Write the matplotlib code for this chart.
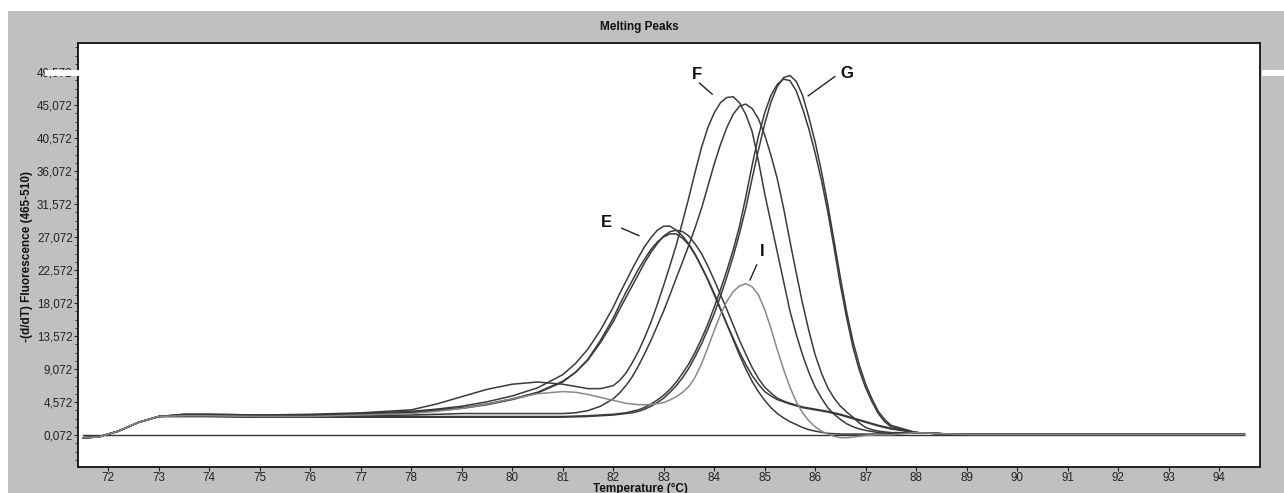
import numpy as np
import matplotlib.pyplot as plt
from matplotlib.patches import Rectangle
from matplotlib.ticker import FixedLocator

# shared temperature grid (deg C), finer around the peaks
temp = [71.5, 71.8, 72.2, 72.6, 73.0, 73.5, 74, 75, 76, 77,
        78, 78.5, 79, 79.5, 80, 80.5, 81, 81.25, 81.5, 81.75,
        82.0, 82.125, 82.25, 82.375, 82.5, 82.625, 82.75, 82.875,
        83.0, 83.125, 83.25, 83.375, 83.5, 83.625, 83.75, 83.875,
        84.0, 84.125, 84.25, 84.375, 84.5, 84.625, 84.75, 84.875,
        85.0, 85.125, 85.25, 85.375, 85.5, 85.625, 85.75, 85.875,
        86.0, 86.125, 86.25, 86.375, 86.5, 86.625, 86.75, 86.875,
        87.0, 87.125, 87.25, 87.375, 87.5,
        88, 88.5, 89, 90, 94.5]

start = [-0.3, -0.2, 0.6, 1.8, 2.6]
tail = [0.4, 0.25, 0.15, 0.15, 0.15]

# -(d/dT) values
curve_E1 = start + [2.9, 2.9, 2.8, 2.8, 3.0, 3.3, 3.6, 4.0, 4.6, 5.4, 6.5, 8.3, 9.8, 11.8, 14.4,
                    17.5, 19.3, 21.0, 22.7, 24.3, 25.8, 27.0, 28.0,
                    28.55, 28.55, 28.0, 27.2, 26.1, 24.7, 23.0, 21.2,
                    19.2, 17.2, 15.2, 13.3, 11.4, 9.7, 8.2, 7.0,
                    6.0, 5.4, 4.9, 4.6, 4.3, 4.05, 3.8, 3.65,
                    3.5, 3.35, 3.2, 3.0, 2.8, 2.55, 2.3, 2.05,
                    1.8, 1.55, 1.3, 1.1, 0.9] + tail
curve_E2 = start + [2.8, 2.8, 2.7, 2.7, 2.9, 3.2, 3.5, 3.8, 4.3, 5.0, 5.9, 7.4, 8.6, 10.3, 12.7,
                    15.5, 17.2, 18.8, 20.4, 22.0, 23.6, 25.0, 26.2,
                    27.2, 27.8, 28.0, 27.8, 27.2, 26.1, 24.8, 23.1,
                    21.2, 19.2, 17.2, 15.1, 13.0, 11.1, 9.3, 7.8,
                    6.6, 5.8, 5.1, 4.7, 4.4, 4.15, 3.9, 3.75,
                    3.6, 3.45, 3.3, 3.1, 2.9, 2.65, 2.4, 2.15,
                    1.9, 1.65, 1.4, 1.2, 1.0] + tail
curve_E3 = start + [2.8, 2.8, 2.7, 2.7, 2.8, 3.1, 3.4, 3.7, 4.2, 4.9, 5.8, 7.3, 8.6, 10.4, 13.0,
                    16.0, 17.8, 19.5, 21.1, 22.7, 24.1, 25.4, 26.4,
                    27.1, 27.5, 27.5, 26.9, 26.0, 24.6, 23.0, 21.3,
                    19.4, 17.3, 15.2, 13.1, 11.0, 9.1, 7.4, 6.0,
                    4.8, 3.8, 3.0, 2.4, 1.9, 1.5, 1.1, 0.8,
                    0.6, 0.45, 0.3, 0.25, 0.2, 0.2, 0.2, 0.2,
                    0.2, 0.2, 0.2, 0.2, 0.2] + tail
curve_F1 = start + [2.9, 2.9, 2.8, 2.9, 3.1, 3.5, 4.3, 5.3, 6.3, 7.0, 7.3, 7.0, 6.7, 6.4, 6.4,
                    6.8, 7.5, 8.5, 9.9, 11.5, 13.4, 15.5, 17.9,
                    20.5, 23.2, 26.0, 29.2, 32.5, 36.0, 39.3, 42.0,
                    44.0, 45.4, 46.1, 46.2, 45.4, 43.8, 41.5, 37.5,
                    33.0, 29.0, 25.0, 21.0, 17.0, 13.8, 11.0, 8.6,
                    6.6, 5.1, 3.8, 2.9, 2.2, 1.6, 1.2, 0.9,
                    0.7, 0.55, 0.4, 0.35, 0.3] + tail
curve_F2 = start + [2.7, 2.7, 2.6, 2.6, 2.7, 2.8, 2.9, 3.0, 3.0, 3.0, 3.0, 3.0, 3.1, 3.4, 4.0,
                    5.0, 5.8, 6.8, 8.0, 9.5, 11.2, 13.0, 15.0,
                    17.0, 19.2, 21.5, 23.7, 26.0, 28.4, 31.0, 34.0,
                    37.0, 39.7, 42.0, 43.8, 44.9, 45.2, 44.6, 43.2,
                    41.0, 38.2, 35.0, 31.0, 26.5, 22.2, 18.0, 14.3,
                    11.0, 8.5, 6.5, 5.1, 4.0, 3.2, 2.5, 1.7,
                    1.1, 0.8, 0.6, 0.5, 0.4] + tail
curve_G1 = start + [2.6, 2.6, 2.5, 2.5, 2.6, 2.6, 2.6, 2.6, 2.6, 2.6, 2.6, 2.6, 2.65, 2.7, 2.8,
                    2.9, 3.0, 3.1, 3.3, 3.5, 3.85, 4.3, 4.85,
                    5.5, 6.3, 7.3, 8.5, 9.8, 11.4, 13.2, 15.2,
                    17.5, 19.9, 22.5, 25.3, 28.5, 32.5, 36.8, 40.8,
                    44.0, 46.4, 47.9, 48.6, 48.4, 47.0, 44.6, 41.8,
                    38.5, 34.8, 30.5, 25.6, 20.5, 16.0, 12.0, 8.9,
                    6.5, 4.6, 3.0, 1.9, 1.2] + tail
curve_G2 = start + [2.6, 2.6, 2.5, 2.5, 2.5, 2.5, 2.5, 2.5, 2.5, 2.5, 2.5, 2.5, 2.55, 2.6, 2.7,
                    2.8, 2.9, 3.0, 3.1, 3.3, 3.6, 4.0, 4.5,
                    5.1, 5.9, 6.8, 7.9, 9.2, 10.8, 12.5, 14.5,
                    16.6, 19.0, 21.6, 24.4, 27.5, 31.0, 35.0, 38.9,
                    42.5, 45.5, 47.6, 48.8, 49.1, 48.3, 46.4, 43.4,
                    40.0, 36.0, 31.5, 26.5, 21.5, 16.8, 12.8, 9.6,
                    7.0, 5.0, 3.3, 2.2, 1.4] + tail
curve_I = start + [2.7, 2.7, 2.6, 2.6, 2.8, 3.0, 3.3, 3.7, 4.3, 5.0, 5.7, 6.0, 5.9, 5.6, 5.2,
                   4.8, 4.6, 4.4, 4.3, 4.2, 4.2, 4.25, 4.35,
                   4.5, 4.85, 5.3, 5.9, 6.7, 8.0, 9.8, 12.0,
                   14.3, 16.5, 18.3, 19.6, 20.4, 20.7, 20.3, 19.2,
                   17.2, 14.6, 11.7, 9.0, 6.6, 4.6, 3.1, 2.0,
                   1.2, 0.6, 0.2, -0.1, -0.3, -0.3, -0.2, -0.1,
                   0.0, 0.05, 0.1, 0.1, 0.1] + tail
baseline = [0.072] * len(temp)

dark_curves = [curve_E1, curve_E2, curve_E3, curve_F1, curve_F2, curve_G1, curve_G2]

y_ticks = [0.072 + 4.5 * k for k in range(12)]
y_labels = [f"{v:.3f}".replace(".", ",") for v in y_ticks]
x_ticks = list(range(72, 95))

peak_labels = ["E", "F", "G", "I"]
label_text_pos = [(81.87, 29.0), (83.65, 49.3), (86.62, 49.4), (84.96, 25.1)]
label_line = [((82.17, 28.27), (82.51, 27.26)),
              ((83.71, 48.05), (83.96, 46.55)),
              ((86.39, 48.95), (85.86, 46.32)),
              ((84.84, 23.26), (84.71, 21.22))]

plt.rcParams['font.family'] = ['Liberation Sans', 'DejaVu Sans']

fig = plt.figure(figsize=(12.84, 4.93), dpi=100)
fig.patch.set_facecolor('white')
fig.add_artist(Rectangle((8 / 1284, 0), 1 - 8 / 1284, 1 - 11 / 493,
                         transform=fig.transFigure, facecolor='#c0c0c0',
                         edgecolor='none', zorder=0))

ax = fig.add_axes([78 / 1284, 1 - 467 / 493, (1260 - 78) / 1284, (467 - 43) / 493])
ax.set_facecolor('white')

ax.plot(temp, baseline, color='#333333', lw=1.0)
for c in dark_curves:
    ax.plot(temp, c, color='#3a3a3a', lw=1.1)
ax.plot(temp, curve_I, color='#888888', lw=1.1)

for lab, tp, (p0, p1) in zip(peak_labels, label_text_pos, label_line):
    ax.text(tp[0], tp[1], lab, fontsize=12, fontweight='bold', ha='center',
            va='center', color='#111111')
    ax.plot([p0[0], p1[0]], [p0[1], p1[1]], color='#222222', lw=1.0)

ax.set_xlim(71.4, 94.81)
ax.set_ylim(-4.29, 53.53)
ax.yaxis.set_major_locator(FixedLocator(y_ticks))
ax.set_yticklabels(y_labels)
ax.yaxis.set_minor_locator(FixedLocator([0.072 + 1.125 * k for k in range(-3, 48)]))
ax.set_xticks(x_ticks)
ax.set_xticklabels([str(v) for v in x_ticks])
ax.tick_params(axis='both', which='major', labelsize=8.4, colors='#222222',
               length=2.8, width=0.8, pad=1.0)
ax.tick_params(axis='y', which='minor', length=2.0, width=0.6, colors='#222222')
for s in ax.spines.values():
    s.set_color('#111111')
    s.set_linewidth(1.3)

fig.text(639 / 1284, 1 - 27 / 493, "Melting Peaks", ha='center', va='center',
         fontsize=8.5, fontweight='bold', color='#111111')
fig.text(27 / 1284, 1 - 257 / 493, "-(d/dT) Fluorescence (465-510)", rotation=90,
         ha='center', va='center', fontsize=8.5, fontweight='bold', color='#111111')
fig.text(640 / 1284, 10 / 493, "Temperature (°C)", ha='center', va='top',
         fontsize=8.5, fontweight='bold', color='#111111')

# white scan artefacts at the 49,572 level
fig.add_artist(Rectangle((45 / 1284, 1 - 76 / 493), 40 / 1284, 6 / 493,
                         transform=fig.transFigure, facecolor='white',
                         edgecolor='none', zorder=5))
fig.add_artist(Rectangle((1262 / 1284, 1 - 76 / 493), 22 / 1284, 6 / 493,
                         transform=fig.transFigure, facecolor='white',
                         edgecolor='none', zorder=5))

fig.savefig('out.png', dpi=100)
